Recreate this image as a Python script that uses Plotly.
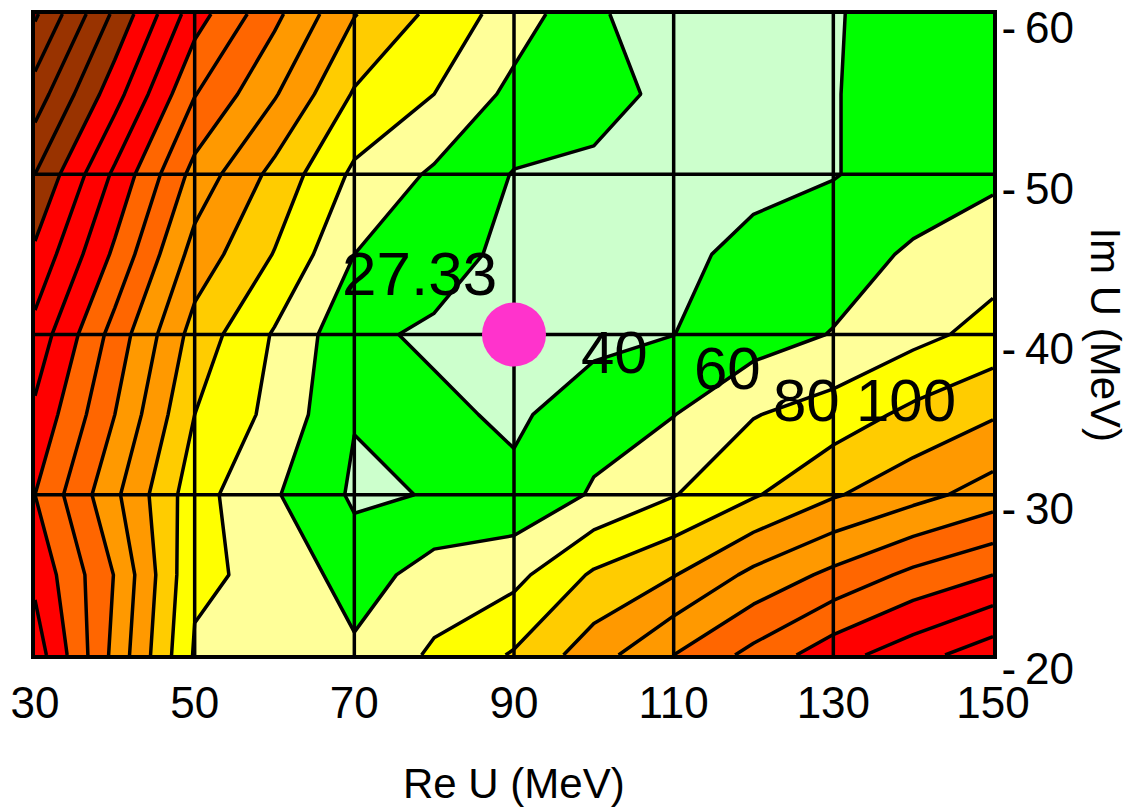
import plotly.graph_objects as go

# Scan grid: real and imaginary parts of the optical potential (MeV)
RE_U = [30, 40, 50, 60, 70, 80, 90, 100, 110, 120, 130, 140, 150]
IM_U = [-20, -25, -30, -35, -40, -45, -50, -55, -60]

# chi^2 along each Im U row, ordered by RE_U
CHI2_IM_20 = [231, 154, 78, 71, 64, 83, 102, 131, 160, 186, 212, 232, 252]
CHI2_IM_25 = [215, 159, 83, 76, 50, 69, 74, 103, 119, 145, 165, 185, 200]
CHI2_IM_30 = [200, 144, 88, 62, 37, 41, 45.5, 62, 79, 98, 118, 133, 149]
CHI2_IM_35 = [216, 160, 100, 74, 41, 45, 36, 53, 59.5, 79, 89, 105, 118]
CHI2_IM_40 = [233, 172, 112, 78, 45, 36, 27.33, 33.5, 39.8, 50.5, 61, 74, 87]
CHI2_IM_45 = [256, 196, 132, 99, 60, 51, 33, 34, 35, 45.5, 50, 63, 71.5]
CHI2_IM_50 = [280, 216, 153, 114, 76, 57, 39, 34.5, 30, 34.5, 39.2, 47.5, 56]
CHI2_IM_55 = [311, 248, 181, 142, 98, 80, 54.5, 50, 33, 32, 39.2, 47.5, 52.5]
CHI2_IM_60 = [343, 276, 209, 165, 121, 95, 70, 45, 20, 29.5, 39.3, 44, 49]

# Best-fit point and its chi^2
BEST_RE = 90
BEST_IM = -40
BEST_CHI2 = 27.33

# Contour levels and the fill colour of each band (below first level .. above last)
LEVELS = [40, 60, 80, 100, 120, 140, 160, 180, 200, 220, 240, 260, 280, 300, 320, 340]
BAND_COLORS = [
    "#ccffcc", "#00ff00", "#ffff99", "#ffff00", "#ffcc00",
    "#ff9900", "#ff9900", "#ff6600", "#ff6600",
    "#ff0000", "#ff0000", "#ff0000",
    "#993300", "#993300", "#993300", "#993300",
    "#800000",
]
LABELED_LEVELS = [40, 60, 80, 100]

X_TICKS = [30, 50, 70, 90, 110, 130, 150]
Y_TICKS = [-20, -30, -40, -50, -60]
GRID_RE = [50, 70, 90, 110, 130]
GRID_IM = [-30, -40, -50]

FONT = "Arial, 'Liberation Sans', sans-serif"
LINE_W = 3.5

z = [CHI2_IM_20, CHI2_IM_25, CHI2_IM_30, CHI2_IM_35, CHI2_IM_40,
     CHI2_IM_45, CHI2_IM_50, CHI2_IM_55, CHI2_IM_60]

n = len(BAND_COLORS) - 1
colorscale = [[i / n, c] for i, c in enumerate(BAND_COLORS)]

fig = go.Figure()
fig.add_trace(go.Contour(
    x=RE_U, y=IM_U, z=z,
    autocontour=False,
    contours=dict(start=LEVELS[0], end=LEVELS[-1], size=LEVELS[1] - LEVELS[0],
                  coloring="fill", showlines=True),
    colorscale=colorscale,
    line=dict(color="black", width=LINE_W, smoothing=0),
    showscale=False, hoverinfo="skip",
))

# grid lines drawn over the filled contours
for gx in GRID_RE:
    fig.add_trace(go.Scatter(x=[gx, gx], y=[IM_U[0], IM_U[-1]], mode="lines",
                             line=dict(color="black", width=LINE_W),
                             hoverinfo="skip", showlegend=False))
for gy in GRID_IM:
    fig.add_trace(go.Scatter(x=[RE_U[0], RE_U[-1]], y=[gy, gy], mode="lines",
                             line=dict(color="black", width=LINE_W),
                             hoverinfo="skip", showlegend=False))

# best-fit point
fig.add_trace(go.Scatter(x=[BEST_RE], y=[BEST_IM], mode="markers",
                         marker=dict(size=64, color="#ff33cc", line=dict(width=0)),
                         hoverinfo="skip", showlegend=False))

# in-plot labels: (x, y) placement in data units
label_pos = {
    "best": (78.2, -43.8),
    40: (102.6, -38.9),
    60: (116.7, -37.9),
    80: (126.7, -35.9),
    100: (139.1, -35.9),
}
annotations = [dict(x=label_pos["best"][0], y=label_pos["best"][1],
                    text=f"{BEST_CHI2:.2f}", showarrow=False,
                    font=dict(family=FONT, size=62, color="black"))]
for lv in LABELED_LEVELS:
    annotations.append(dict(x=label_pos[lv][0], y=label_pos[lv][1], text=str(lv),
                            showarrow=False,
                            font=dict(family=FONT, size=60, color="black")))

# axis titles
annotations.append(dict(xref="paper", yref="paper", x=0.5, y=-0.2,
                        xanchor="center", yanchor="middle",
                        text="Re U (MeV)", showarrow=False,
                        font=dict(family=FONT, size=42, color="black")))
annotations.append(dict(xref="paper", yref="paper", x=1.117, y=0.5,
                        xanchor="center", yanchor="middle",
                        text="Im U (MeV)", textangle=90, showarrow=False,
                        font=dict(family=FONT, size=42, color="black")))

fig.update_layout(
    width=1132, height=809,
    margin=dict(l=35, r=139, t=14, b=154),
    paper_bgcolor="white", plot_bgcolor="white",
    showlegend=False,
    annotations=annotations,
    xaxis=dict(range=[RE_U[0], RE_U[-1]], tickvals=X_TICKS,
               ticktext=[str(v) for v in X_TICKS],
               automargin=False, ticklabeloverflow="allow",
               showgrid=False, zeroline=False, showline=True, mirror=True,
               linecolor="black", linewidth=3.5, ticks="",
               ticklabelstandoff=6,
               tickfont=dict(family=FONT, size=44, color="black"),
               layer="above traces"),
    yaxis=dict(range=[IM_U[0], IM_U[-1]], side="right", tickvals=Y_TICKS,
               ticktext=["-\u2009" + str(abs(v)) for v in Y_TICKS],
               automargin=False, ticklabeloverflow="allow",
               showgrid=False, zeroline=False, showline=True, mirror=True,
               linecolor="black", linewidth=3.5, ticks="",
               ticklabelshift=-14, ticklabelstandoff=-4,
               tickfont=dict(family=FONT, size=44, color="black"),
               layer="above traces"),
)

fig.write_html("out.html", config={"displayModeBar": False})
